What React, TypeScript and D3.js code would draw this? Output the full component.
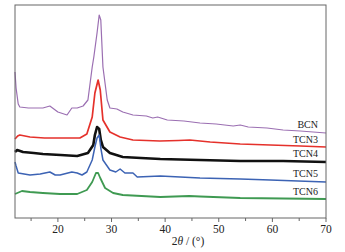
import * as d3 from "d3";
import React from "react";

// 2theta positions and intensities (a.u.)
const bcnX = [12.0, 12.2, 12.6, 12.9, 14.5, 17.2, 18.5, 20.0, 21.7, 22.6, 23.6, 24.7, 25.6, 26.4, 26.7, 27.3, 27.7, 28.0, 28.4, 29.2, 29.7, 31.0, 32.1, 34.0, 36.5, 37.7, 38.6, 40.4, 43.5, 46.5, 49.5, 52.7, 54.0, 55.5, 59.0, 62.0, 65.2, 70.0];
const bcnY = [146, 130, 114, 111, 110, 110, 112, 106, 103, 110, 110, 112, 118, 151, 161, 185, 203, 198, 151, 118, 110, 109, 106, 103, 102, 100, 101, 98, 97, 95, 94, 92, 93, 91, 90, 88, 87, 85];

const tcn3X = [12.0, 12.5, 12.9, 14.8, 17.5, 20.4, 24.1, 25.4, 26.4, 26.9, 27.5, 27.9, 28.4, 29.7, 31.6, 34.0, 39.0, 42.5, 44.6, 48.4, 54.0, 59.6, 65.2, 70.0];
const tcn3Y = [79, 82, 83, 81, 80, 80, 80, 84, 101, 125, 138, 128, 98, 86, 81, 78, 77, 77.5, 78, 76, 74, 73, 72, 71];

const tcn4X = [12.0, 12.4, 13.5, 15.5, 17.2, 20.5, 23.6, 25.6, 26.6, 26.9, 27.3, 27.7, 28.0, 28.4, 29.7, 32.1, 35.5, 39.1, 46.5, 54.0, 62.0, 70.0];
const tcn4Y = [66, 68, 66, 65, 64, 63, 62, 65, 73, 83, 91, 89, 78, 71, 65, 61, 60, 59, 58, 57, 57, 56];

const tcn5X = [12.0, 12.2, 12.6, 14.8, 16.7, 18.5, 19.5, 20.4, 22.6, 23.6, 24.5, 25.4, 26.4, 26.9, 27.3, 27.7, 28.0, 28.4, 29.7, 30.8, 31.6, 32.5, 34.0, 34.8, 39.1, 46.5, 54.0, 59.6, 70.0];
const tcn5Y = [56, 52, 45, 43, 44, 46, 43, 43, 46, 45, 43, 46, 58, 71, 80, 83, 70, 58, 48, 46, 49, 45, 45, 41, 42, 40, 39, 38, 36];

const tcn6X = [12.0, 13.3, 14.8, 17.2, 20.4, 23.6, 25.4, 26.4, 27.1, 27.5, 27.9, 28.8, 30.3, 32.1, 39.1, 44.5, 46.5, 54.0, 70.0];
const tcn6Y = [24, 27, 26, 25, 24, 24, 28, 36, 45, 45, 40, 30, 25, 23, 21, 22, 21.5, 20, 19];

const seriesNames = ["BCN", "TCN3", "TCN4", "TCN5", "TCN6"];
const seriesColors = ["#9b6fb2", "#e5312b", "#111111", "#3c63b4", "#3f9a52"];
const seriesWidths = [1.2, 1.7, 2.6, 1.5, 1.8];
const labelValues = [90, 75, 61, 41, 23];
const xTicks = [20, 30, 40, 50, 60, 70];
const xMinorTicks = [15, 25, 35, 45, 55, 65];

const W = 345;
const H = 252;
const margin = { left: 15, top: 5, right: 19, bottom: 34 };

export default function App() {
  const x = d3.scaleLinear().domain([12, 70]).range([margin.left, W - margin.right]);
  const y = d3.scaleLinear().domain([0, 213]).range([H - margin.bottom, margin.top]);
  const line = d3
    .line<[number, number]>()
    .x((d) => x(d[0]))
    .y((d) => y(d[1]))
    .curve(d3.curveLinear);

  const all = [
    [bcnX, bcnY],
    [tcn3X, tcn3Y],
    [tcn4X, tcn4Y],
    [tcn5X, tcn5Y],
    [tcn6X, tcn6Y],
  ];

  const bottom = H - margin.bottom;
  const font = "'Liberation Serif', 'Times New Roman', serif";

  return (
    <div style={{ position: "fixed", left: 0, top: 0 }}>
      <svg width={W} height={H} style={{ display: "block", background: "#fff" }}>
        {all.map(([xs, ys], i) => (
          <path
            key={seriesNames[i]}
            d={line(xs.map((v, j) => [v, ys[j]] as [number, number])) || ""}
            fill="none"
            stroke={seriesColors[i]}
            strokeWidth={seriesWidths[i]}
            strokeLinejoin="round"
          />
        ))}

        <rect
          x={margin.left}
          y={margin.top}
          width={W - margin.left - margin.right}
          height={H - margin.top - margin.bottom}
          fill="none"
          stroke="#666"
          strokeWidth={1}
        />

        {xTicks.map((t) => (
          <g key={t}>
            <line x1={x(t)} x2={x(t)} y1={bottom} y2={bottom + 4} stroke="#666" />
            <text x={x(t)} y={bottom + 15} textAnchor="middle" fontFamily={font} fontSize={11.5} fill="#222">
              {t}
            </text>
          </g>
        ))}
        {xMinorTicks.map((t) => (
          <line key={t} x1={x(t)} x2={x(t)} y1={bottom} y2={bottom + 3} stroke="#666" />
        ))}

        <text x={188} y={H - 7} textAnchor="middle" fontFamily={font} fontSize={11.5} fill="#222">
          2<tspan fontStyle="italic">θ</tspan> / (°)
        </text>

        {seriesNames.map((name, i) => (
          <text
            key={name}
            x={318}
            y={y(labelValues[i])}
            textAnchor="end"
            fontFamily={font}
            fontSize={10}
            fill="#222"
          >
            {name}
          </text>
        ))}
      </svg>
    </div>
  );
}
